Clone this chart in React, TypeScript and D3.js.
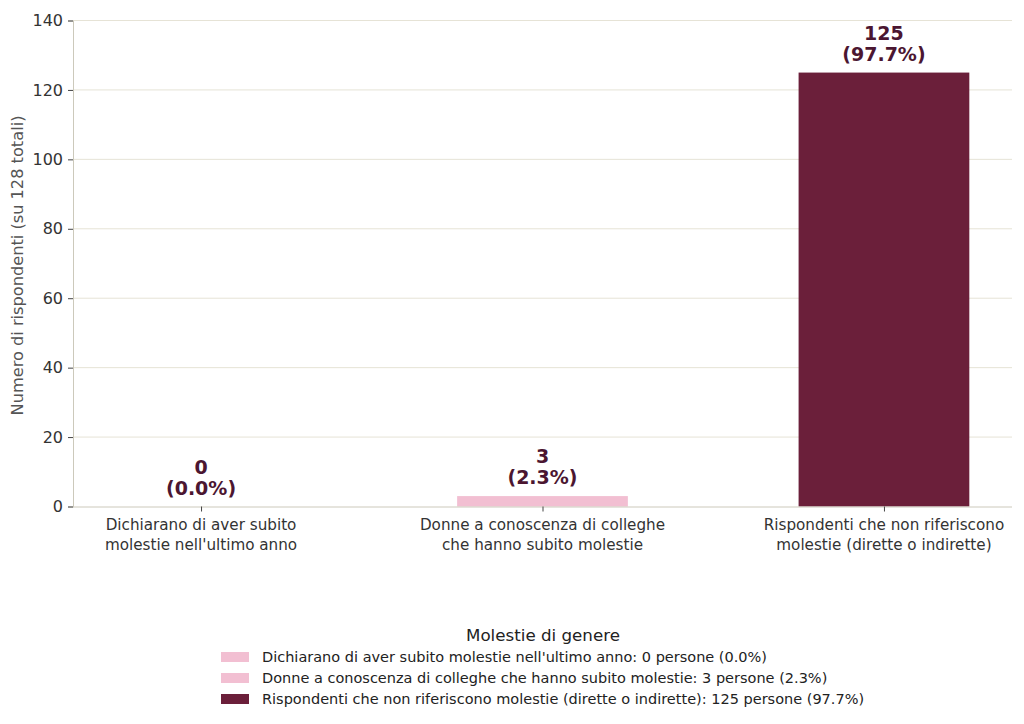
import React, { useEffect, useRef } from "react";
import * as d3 from "d3";

const categories = [
  ["Dichiarano di aver subito", "molestie nell'ultimo anno"],
  ["Donne a conoscenza di colleghe", "che hanno subito molestie"],
  ["Rispondenti che non riferiscono", "molestie (dirette o indirette)"],
];
const counts = [0, 3, 125];
const percents = ["0.0%", "2.3%", "97.7%"];
const colors = ["#f2bfd2", "#f2bfd2", "#6b1f3a"];
const legendLabels = [
  "Dichiarano di aver subito molestie nell'ultimo anno: 0 persone (0.0%)",
  "Donne a conoscenza di colleghe che hanno subito molestie: 3 persone (2.3%)",
  "Rispondenti che non riferiscono molestie (dirette o indirette): 125 persone (97.7%)",
];
const yTicks = [0, 20, 40, 60, 80, 100, 120, 140];

export default function App() {
  const svgRef = useRef<SVGSVGElement | null>(null);

  useEffect(() => {
    if (!svgRef.current) return;
    const svg = d3.select(svgRef.current);
    svg.selectAll("*").remove();

    const font = "DejaVu Sans, sans-serif";
    const left = 73;
    const right = 1012;
    const top = 20.5;
    const bottom = 506.5;

    const x = d3.scaleLinear().domain([-0.375, 2.375]).range([left, right]);
    const y = d3.scaleLinear().domain([0, 140]).range([bottom, top]);
    const barW = 0.5;

    // grid
    svg
      .append("g")
      .selectAll("line")
      .data(yTicks.slice(1))
      .join("line")
      .attr("x1", left)
      .attr("x2", right)
      .attr("y1", (d) => y(d))
      .attr("y2", (d) => y(d))
      .attr("stroke", "#e6e3d6")
      .attr("stroke-width", 1);

    // bars
    svg
      .append("g")
      .selectAll("rect")
      .data(counts)
      .join("rect")
      .attr("x", (_, i) => x(i - barW / 2))
      .attr("width", x(barW) - x(0))
      .attr("y", (d) => y(d))
      .attr("height", (d) => y(0) - y(d))
      .attr("fill", (_, i) => colors[i]);

    // value labels
    const vl = svg
      .append("g")
      .selectAll("text")
      .data(counts)
      .join("text")
      .attr("text-anchor", "middle")
      .attr("font-family", font)
      .attr("font-weight", "bold")
      .attr("font-size", 19)
      .attr("fill", "#4b1631");
    vl.append("tspan")
      .attr("x", (_, i) => x(i))
      .attr("y", (d) => y(d) - 33)
      .text((d) => String(d));
    vl.append("tspan")
      .attr("x", (_, i) => x(i))
      .attr("y", (d) => y(d) - 12)
      .text((_, i) => `(${percents[i]})`);

    // y axis
    const yAxis = svg
      .append("g")
      .attr("transform", `translate(${left},0)`)
      .call(d3.axisLeft(y).tickValues(yTicks).tickSize(5).tickPadding(5));
    yAxis.select(".domain").attr("stroke", "#ccc9bb");
    yAxis.selectAll(".tick line").attr("stroke", "#444");
    yAxis
      .selectAll(".tick text")
      .attr("font-family", font)
      .attr("font-size", 16)
      .attr("fill", "#333");

    // x axis
    const xAxis = svg
      .append("g")
      .attr("transform", `translate(0,${bottom})`)
      .call(
        d3
          .axisBottom(x)
          .tickValues([0, 1, 2])
          .tickSize(5)
          .tickFormat(() => "")
      );
    xAxis.select(".domain").attr("stroke", "#ccc9bb").attr("d", `M${left},0.5H${right}`);
    xAxis.selectAll(".tick line").attr("stroke", "#444");

    svg
      .append("g")
      .selectAll("text")
      .data(categories)
      .join("text")
      .attr("text-anchor", "middle")
      .attr("font-family", font)
      .attr("font-size", 15.2)
      .attr("fill", "#333")
      .each(function (d, i) {
        const t = d3.select(this);
        d.forEach((line, j) => {
          t.append("tspan")
            .attr("x", x(i))
            .attr("y", bottom + 23 + j * 20)
            .text(line);
        });
      });

    // y label
    svg
      .append("text")
      .attr("transform", `translate(23,${(top + bottom) / 2 + 2}) rotate(-90)`)
      .attr("text-anchor", "middle")
      .attr("font-family", font)
      .attr("font-size", 16.2)
      .attr("fill", "#555")
      .text("Numero di rispondenti (su 128 totali)");

    // legend
    const lg = svg.append("g");
    lg.append("text")
      .attr("x", 543)
      .attr("y", 641)
      .attr("text-anchor", "middle")
      .attr("font-family", font)
      .attr("font-size", 16.7)
      .attr("fill", "#222")
      .text("Molestie di genere");
    const rows = lg
      .selectAll("g.row")
      .data(legendLabels)
      .join("g")
      .attr("class", "row")
      .attr("transform", (_, i) => `translate(221,${657 + i * 21})`);
    rows
      .append("rect")
      .attr("x", 0)
      .attr("y", -5)
      .attr("width", 28)
      .attr("height", 10)
      .attr("fill", (_, i) => colors[i]);
    rows
      .append("text")
      .attr("x", 41)
      .attr("y", 5)
      .attr("font-family", font)
      .attr("font-size", 14.5)
      .attr("fill", "#222")
      .text((d) => d);
  }, []);

  return (
    <svg
      ref={svgRef}
      width={1024}
      height={724}
      style={{ position: "absolute", left: 0, top: 0, background: "#fff" }}
    />
  );
}
